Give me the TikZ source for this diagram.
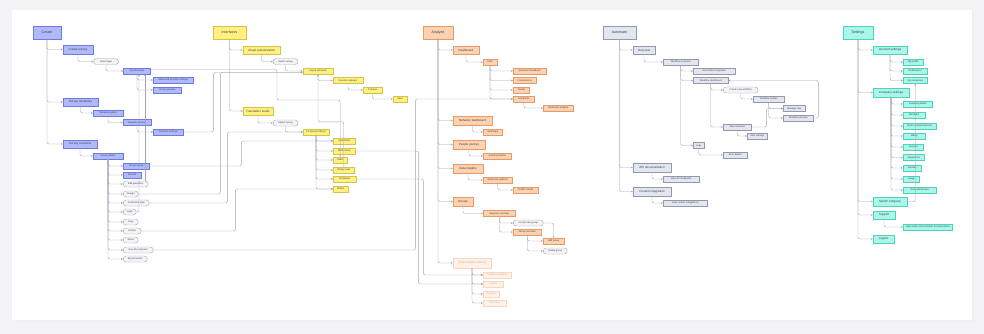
\documentclass[tikz,border=0pt]{standalone}
\usepackage{fontspec}
\setmainfont{Liberation Sans}
\usepackage{xcolor}
\usetikzlibrary{arrows.meta,positioning}

\definecolor{pagebg}{HTML}{F3F3F5}
\definecolor{bluefill}{HTML}{B0BAF8}
\definecolor{blueline}{HTML}{6C7BE0}
\definecolor{yellowfill}{HTML}{FFF07F}
\definecolor{yellowline}{HTML}{D6C34B}
\definecolor{orangefill}{HTML}{FDD2B0}
\definecolor{orangeline}{HTML}{E59A68}
\definecolor{fadedfill}{HTML}{FEF1E7}
\definecolor{fadedline}{HTML}{F8D7C1}
\definecolor{fadedtext}{HTML}{E2AC8E}
\definecolor{grayfill}{HTML}{E4E6EF}
\definecolor{grayline}{HTML}{9398AC}
\definecolor{cyanfill}{HTML}{A8F7E8}
\definecolor{cyanline}{HTML}{4FD2BA}
\definecolor{pillfill}{HTML}{F4F4F7}
\definecolor{pillline}{HTML}{AAADBB}
\definecolor{linkc}{HTML}{A2A5B7}
\definecolor{labeltext}{HTML}{3A3C4C}

\tikzset{
  base/.style={draw, rectangle, inner sep=0.8pt, align=center, line width=0.45pt, text=labeltext},
  hdr/.style={base, minimum height=13pt, line width=0.6pt, font=\fontsize{3.6}{4.2}\selectfont},
  sec/.style={base, minimum height=8.5pt, font=\fontsize{3}{3.6}\selectfont},
  leaf/.style={base, minimum height=6pt, font=\fontsize{2.4}{2.9}\selectfont},
  pill/.style={leaf, rounded corners=3pt, fill=pillfill, draw=pillline},
  bluebox/.style={fill=bluefill, draw=blueline},
  yellowbox/.style={fill=yellowfill, draw=yellowline},
  orangebox/.style={fill=orangefill, draw=orangeline},
  fadedbox/.style={fill=fadedfill, draw=fadedline, text=fadedtext},
  graybox/.style={fill=grayfill, draw=grayline},
  cyanbox/.style={fill=cyanfill, draw=cyanline},
  link/.style={draw=linkc, line width=0.45pt, rounded corners=2pt, -{Stealth[length=2pt,width=1.8pt]}}
}

\begin{document}
\begin{tikzpicture}[x=1pt, y=-1pt]

  % ---------------- Canvas ----------------
  \useasboundingbox (0,0) rectangle (984,334);
  \fill[pagebg] (0,0) rectangle (984,334);
  \fill[black!6] (13.5,12) rectangle (973.5,322);
  \fill[white] (12,10) rectangle (972,320);

  % ---------------- Create ----------------
  \node[hdr, bluebox, minimum width=28pt] (create) at (47,32.5) {Create};
  \node[sec, bluebox, minimum width=30pt] (newsurvey) at (78,49.5) {Create survey};
  \node[pill, minimum width=25pt] (selecttype) at (106,61.5) {Select type};
  \node[leaf, bluebox, minimum width=27pt] (qbuilder) at (137,71) {Questionnaire};
  \node[leaf, bluebox, anchor=west, minimum width=40pt] (advsettings) at (153,80) {Advanced question settings};
  \node[leaf, bluebox, anchor=west, minimum width=28pt] (preview) at (153,90) {Survey preview};
  \node[sec, bluebox, minimum width=35pt] (templates) at (80.5,102) {Survey templates};
  \node[leaf, bluebox, minimum width=30pt] (gallery) at (108,113) {Template gallery};
  \node[leaf, bluebox, minimum width=28pt] (tpreview) at (137,122.5) {Template preview};
  \node[leaf, bluebox, anchor=west, minimum width=30pt] (tsettings) at (153,132) {Template settings};
  \node[sec, bluebox, minimum width=34pt] (overview) at (80,144) {Survey overview};
  \node[leaf, bluebox, minimum width=30pt] (details) at (108,156) {Survey details};

  \node[leaf, bluebox, anchor=west, minimum width=26pt] (fillout) at (123,166) {Fill out survey};
  \node[leaf, bluebox, anchor=west, minimum width=18pt] (results) at (123,175) {Results};
  \node[pill, anchor=west, minimum width=25pt] (editq) at (123,184) {Edit questions};
  \node[pill, anchor=west, minimum width=15pt] (design) at (123,194) {Design};
  \node[pill, anchor=west, minimum width=26pt] (customize) at (123,203) {Customize style};
  \node[pill, anchor=west, minimum width=13pt] (logic) at (123,212) {Logic};
  \node[pill, anchor=west, minimum width=15pt] (copy) at (123,222) {Copy};
  \node[pill, anchor=west, minimum width=18pt] (actions) at (123,231) {Actions};
  \node[pill, anchor=west, minimum width=15pt] (share) at (123,240) {Share};
  \node[pill, anchor=west, minimum width=30pt] (seeall) at (123,250) {See all responses};
  \node[pill, anchor=west, minimum width=24pt] (export) at (123,259) {Export results};

  % ---------------- Interfaces ----------------
  \node[hdr, yellowbox, minimum width=33pt] (interfaces) at (229.5,32.5) {Interfaces};
  \node[sec, yellowbox, minimum width=37pt] (visual) at (261.5,50) {Visual customization};
  \node[pill, minimum width=25pt] (selsurvey) at (285.5,61.5) {Select survey};
  \node[leaf, yellowbox, minimum width=30pt] (layout) at (318,71) {Layout elements};
  \node[leaf, yellowbox, minimum width=30pt] (qdesign) at (348,80.5) {Question designs};
  \node[leaf, yellowbox, minimum width=19pt] (ipreview) at (372.5,90) {Preview};
  \node[leaf, yellowbox, minimum width=14pt] (isave) at (400,99) {Save};
  \node[sec, yellowbox, minimum width=30pt] (translation) at (258,111) {Translation studio};
  \node[pill, minimum width=25pt] (selsurveyb) at (285.5,123) {Select survey};
  \node[leaf, yellowbox, minimum width=26pt] (complib) at (316,132) {Component library};
  \node[leaf, yellowbox, anchor=west, minimum width=22pt] (inputs) at (333,141) {Input fields};
  \node[leaf, yellowbox, anchor=west, minimum width=22pt] (multichoice) at (333,151) {Multi choice};
  \node[leaf, yellowbox, anchor=west, minimum width=14pt] (slider) at (333,160) {Slider};
  \node[leaf, yellowbox, anchor=west, minimum width=21pt] (rating) at (333,170) {Rating scale};
  \node[leaf, yellowbox, anchor=west, minimum width=23pt] (dropdown) at (333,179) {Dropdown};
  \node[leaf, yellowbox, anchor=west, minimum width=15pt] (button) at (333,189) {Button};

  % ---------------- Analyze ----------------
  \node[hdr, orangebox, minimum width=30pt] (analyze) at (438,32.5) {Analyze};
  \node[sec, orangebox, minimum width=26pt] (dashboard) at (466,50) {Dashboard};
  \node[leaf, orangebox, minimum width=14pt] (filter) at (490,62) {Filter};
  \node[leaf, orangebox, anchor=west, minimum width=33pt] (breakdown) at (513,71) {Question breakdown};
  \node[leaf, orangebox, anchor=west, minimum width=23pt] (comparisons) at (513,80.5) {Comparisons};
  \node[leaf, orangebox, anchor=west, minimum width=16pt] (trends) at (513,90) {Trends};
  \node[leaf, orangebox, anchor=west, minimum width=21pt] (comments) at (513,99) {Comments};
  \node[leaf, orangebox, anchor=west, minimum width=30pt] (sentiment) at (543,108) {Sentiment analysis};
  \node[sec, orangebox, minimum width=39pt] (behavior) at (472.5,120.5) {Behavior dashboard};
  \node[leaf, orangebox, anchor=west, minimum width=19pt] (heatmaps) at (483,132) {Heatmaps};
  \node[sec, orangebox, minimum width=32pt] (journey) at (469,144.5) {People journey};
  \node[leaf, orangebox, anchor=west, minimum width=28pt] (timeline) at (483,156) {Journey timeline};
  \node[sec, orangebox, minimum width=30pt] (insights) at (468,168.5) {Data insights};
  \node[leaf, orangebox, anchor=west, minimum width=29pt] (patterns) at (483,180) {Response patterns};
  \node[leaf, orangebox, anchor=west, minimum width=25pt] (predict) at (513,190) {Predict results};
  \node[sec, orangebox, minimum width=20pt] (groups) at (463,201.5) {Groups};
  \node[leaf, orangebox, anchor=west, minimum width=32pt] (segoverview) at (483,213.5) {Segment overview};
  \node[pill, anchor=west, minimum width=30pt] (newgroup) at (513,223) {Create new group};
  \node[leaf, orangebox, anchor=west, minimum width=28pt] (groupdetail) at (513,232) {Group overview};
  \node[leaf, orangebox, anchor=west, minimum width=21pt] (editgroup) at (543,241) {Edit group};
  \node[pill, anchor=west, minimum width=24pt] (delgroup) at (543,251) {Delete group};
  \node[sec, fadedbox, minimum width=38pt, minimum height=10pt] (segment) at (472,263) {Segmentation (Beta)};
  \node[leaf, fadedbox, anchor=west, minimum width=28pt] (audience) at (483,275) {Audience analytics};
  \node[leaf, fadedbox, anchor=west, minimum width=20pt] (cohorts) at (483,284) {Cohorts};
  \node[leaf, fadedbox, anchor=west, minimum width=16pt] (funnels) at (483,294) {Funnels};
  \node[leaf, fadedbox, anchor=west, minimum width=23pt] (retention) at (483,303) {Retention};

  % ---------------- Automate ----------------
  \node[hdr, graybox, minimum width=33pt] (automate) at (619.5,32.5) {Automate};
  \node[sec, graybox, minimum width=22pt] (autooverview) at (644,50) {Overview};
  \node[leaf, graybox, anchor=west, minimum width=35pt] (wfoverview) at (663,62) {Workflow overview};
  \node[leaf, graybox, anchor=west, minimum width=42pt] (autotemplates) at (693,71) {Automation templates};
  \node[leaf, graybox, anchor=west, minimum width=35pt] (wfdash) at (693,80.5) {Workflow dashboard};
  \node[pill, anchor=west, minimum width=35pt] (newwf) at (723,90) {Create new workflow};
  \node[leaf, graybox, anchor=west, minimum width=31pt] (wfbuilder) at (753,99) {Workflow builder};
  \node[leaf, graybox, anchor=west, minimum width=22pt] (managestep) at (783,108.5) {Manage step};
  \node[leaf, graybox, anchor=west, minimum width=30pt] (wfpreview) at (783,118) {Workflow preview};
  \node[leaf, graybox, anchor=west, minimum width=28pt] (stepoverview) at (723,127) {Step overview};
  \node[leaf, graybox, anchor=west, minimum width=20pt] (stepsettings) at (747,136) {Step settings};
  \node[leaf, graybox, anchor=west, minimum width=11pt] (logs) at (693,145.5) {Logs};
  \node[leaf, graybox, anchor=west, minimum width=24pt] (errors) at (723,155) {Error details};
  \node[sec, graybox, minimum width=38pt] (apidoc) at (652,167.5) {API documentation};
  \node[leaf, graybox, anchor=west, minimum width=36pt] (endpoints) at (663,179) {View API endpoints};
  \node[sec, graybox, minimum width=38pt] (custom) at (652,191.5) {Custom integration};
  \node[leaf, graybox, anchor=west, minimum width=44pt] (viewcustom) at (663,203) {View custom integrations};

  % ---------------- Settings ----------------
  \node[hdr, cyanbox, minimum width=30pt] (settings) at (858,32.5) {Settings};
  \node[sec, cyanbox, minimum width=34pt] (account) at (890,50) {Account settings};
  \node[leaf, cyanbox, anchor=west, minimum width=20pt] (profile) at (903,62) {My profile};
  \node[leaf, cyanbox, anchor=west, minimum width=24pt] (notif) at (903,71) {Notifications};
  \node[leaf, cyanbox, anchor=west, minimum width=24pt] (mycomp) at (903,80.5) {My companies};
  \node[sec, cyanbox, minimum width=36pt] (company) at (891,92.5) {Company settings};
  \node[leaf, cyanbox, anchor=west, minimum width=29pt] (compdetails) at (903,104) {Company details};
  \node[leaf, cyanbox, anchor=west, minimum width=22pt] (members) at (903,115) {Members};
  \node[leaf, cyanbox, anchor=west, minimum width=33pt] (roles) at (903,126) {Roles and permissions};
  \node[leaf, cyanbox, anchor=west, minimum width=22pt] (billing) at (903,136) {Billing};
  \node[leaf, cyanbox, anchor=west, minimum width=20pt] (invoices) at (903,147) {Invoices};
  \node[leaf, cyanbox, anchor=west, minimum width=21pt] (integrations) at (903,157.5) {Integrations};
  \node[leaf, cyanbox, anchor=west, minimum width=18pt] (security) at (903,168) {Security};
  \node[leaf, cyanbox, anchor=west, minimum width=16pt] (usage) at (903,179) {Usage};
  \node[leaf, cyanbox, anchor=west, minimum width=33pt] (privacy) at (903,190) {Data and privacy};
  \node[sec, cyanbox, minimum width=34pt] (switch) at (890,201.5) {Switch company};
  \node[sec, cyanbox, minimum width=22pt] (support) at (884,215) {Support};
  \node[leaf, cyanbox, anchor=west, minimum width=49pt] (helpdesk) at (903,227) {Help center and customer documentation};
  \node[sec, cyanbox, minimum width=21pt] (logout) at (883.5,239) {Logout};

  % ---------------- Create links ----------------
  \draw[link] (create.south) |- (newsurvey.west);
  \draw[link] (create.south) |- (templates.west);
  \draw[link] (create.south) |- (overview.west);
  \draw[link] (newsurvey.south) |- (selecttype.west);
  \draw[link] (selecttype.south) |- (qbuilder.west);
  \draw[link] (qbuilder.south) |- (advsettings.west);
  \draw[link] (qbuilder.south) |- (preview.west);
  \draw[link] (templates.south) |- (gallery.west);
  \draw[link] (gallery.south) |- (tpreview.west);
  \draw[link] (tpreview.south) |- (tsettings.west);
  \draw[link] (overview.south) |- (details.west);
  \draw[link] (details.south) |- (fillout.west);
  \draw[link] (details.south) |- (results.west);
  \draw[link] (details.south) |- (editq.west);
  \draw[link] (details.south) |- (design.west);
  \draw[link] (details.south) |- (customize.west);
  \draw[link] (details.south) |- (logic.west);
  \draw[link] (details.south) |- (copy.west);
  \draw[link] (details.south) |- (actions.west);
  \draw[link] (details.south) |- (share.west);
  \draw[link] (details.south) |- (seeall.west);
  \draw[link] (details.south) |- (export.west);

  % ---------------- Interfaces links ----------------
  \draw[link] (interfaces.south) |- (visual.west);
  \draw[link] (interfaces.south) |- (translation.west);
  \draw[link] (visual.south) |- (selsurvey.west);
  \draw[link] (selsurvey.south) |- (layout.west);
  \draw[link] (layout.south) |- (qdesign.west);
  \draw[link] (qdesign.south) |- (ipreview.west);
  \draw[link] (ipreview.south) |- (isave.west);
  \draw[link] (translation.south) |- (selsurveyb.west);
  \draw[link] (selsurveyb.south) |- (complib.west);
  \draw[link] (complib.south) |- (inputs.west);
  \draw[link] (complib.south) |- (multichoice.west);
  \draw[link] (complib.south) |- (slider.west);
  \draw[link] (complib.south) |- (rating.west);
  \draw[link] (complib.south) |- (dropdown.west);
  \draw[link] (complib.south) |- (button.west);

  % ---------------- Analyze links ----------------
  \draw[link] (analyze.south) |- (dashboard.west);
  \draw[link] (analyze.south) |- (behavior.west);
  \draw[link] (analyze.south) |- (journey.west);
  \draw[link] (analyze.south) |- (insights.west);
  \draw[link] (analyze.south) |- (groups.west);
  \draw[link] (analyze.south) |- (segment.west);
  \draw[link] (dashboard.south) |- (filter.west);
  \draw[link] (filter.south) |- (breakdown.west);
  \draw[link] (filter.south) |- (comparisons.west);
  \draw[link] (filter.south) |- (trends.west);
  \draw[link] (filter.south) |- (comments.west);
  \draw[link] (comments.south) |- (sentiment.west);
  \draw[link] (behavior.south) |- (heatmaps.west);
  \draw[link] (journey.south) |- (timeline.west);
  \draw[link] (insights.south) |- (patterns.west);
  \draw[link] (patterns.south) |- (predict.west);
  \draw[link] (groups.south) |- (segoverview.west);
  \draw[link] (segoverview.south) |- (newgroup.west);
  \draw[link] (segoverview.south) |- (groupdetail.west);
  \draw[link] (groupdetail.south) |- (editgroup.west);
  \draw[link] (groupdetail.south) |- (delgroup.west);
  \draw[link] (newgroup.east) -| (editgroup.north);
  \draw[link] (segment.south) |- (audience.west);
  \draw[link] (segment.south) |- (cohorts.west);
  \draw[link] (segment.south) |- (funnels.west);
  \draw[link] (segment.south) |- (retention.west);

  % ---------------- Automate links ----------------
  \draw[link] (automate.south) |- (autooverview.west);
  \draw[link] (automate.south) |- (apidoc.west);
  \draw[link] (automate.south) |- (custom.west);
  \draw[link] (autooverview.south) |- (wfoverview.west);
  \draw[link] (wfoverview.south) |- (autotemplates.west);
  \draw[link] (wfoverview.south) |- (wfdash.west);
  \draw[link] (wfoverview.south) |- (logs.west);
  \draw[link] (wfdash.south) |- (newwf.west);
  \draw[link] (wfdash.south) |- (stepoverview.west);
  \draw[link] (newwf.south) |- (wfbuilder.west);
  \draw[link] (wfbuilder.south) |- (managestep.west);
  \draw[link] (wfbuilder.south) |- (wfpreview.west);
  \draw[link] (stepoverview.south) |- (stepsettings.west);
  \draw[link] (stepoverview.east) -- ++(15,0) |- (managestep.west);
  \draw[link] (wfpreview.east) -- ++(5,0) |- (wfdash.east);
  \draw[link] (logs.south) |- (errors.west);
  \draw[link] (apidoc.south) |- (endpoints.west);
  \draw[link] (custom.south) |- (viewcustom.west);

  % ---------------- Settings links ----------------
  \draw[link] (settings.south) |- (account.west);
  \draw[link] (settings.south) |- (company.west);
  \draw[link] (settings.south) |- (switch.west);
  \draw[link] (settings.south) |- (support.west);
  \draw[link] (settings.south) |- (logout.west);
  \draw[link] (account.south) |- (profile.west);
  \draw[link] (account.south) |- (notif.west);
  \draw[link] (account.south) |- (mycomp.west);
  \draw[link] (company.south) |- (compdetails.west);
  \draw[link] (company.south) |- (members.west);
  \draw[link] (company.south) |- (roles.west);
  \draw[link] (company.south) |- (billing.west);
  \draw[link] (company.south) |- (invoices.west);
  \draw[link] (company.south) |- (integrations.west);
  \draw[link] (company.south) |- (security.west);
  \draw[link] (company.south) |- (usage.west);
  \draw[link] (company.south) |- (privacy.west);
  \draw[link] (switch.east) -| (mycomp.south);
  \draw[link] (support.south) |- (helpdesk.west);

  % ---------------- Cross links ----------------
  \coordinate (qinA) at ([xshift=8pt]qbuilder.south);
  \coordinate (qinB) at ([xshift=2pt]qbuilder.south);
  \draw[link] (editq.north -| qinA) -- (qinA);
  \draw[link] (logic.east) -| (qinB);
  \draw[link] (tsettings.east) -- ++(30,0) |- ([yshift=-1.5pt]layout.west);
  \draw[link] (design.east) -- ++(82,0) |- ([yshift=-1.5pt]layout.west);
  \draw[link] (customize.east) -- ++(78,0) |- (complib.west);
  \draw[link] (fillout.east) -- ++(92,0) |- (inputs.west);
  \draw[link] (actions.east) -- ++(94,0) |- (button.west);
  \draw[link] (seeall.east) -- ++(262,0) |- (comments.west);
  \draw[link] ([yshift=1.5pt]qbuilder.east) -| (277,100) -| (slider.north);
  \draw[link] (rating.north) -- ++(0,-45) -| (layout.south);
  \draw[link] (multichoice.east) -- ++(63,0) |- (cohorts.west);
  \draw[link] (dropdown.east) -- ++(67,0) |- (audience.west);

\end{tikzpicture}
\end{document}
